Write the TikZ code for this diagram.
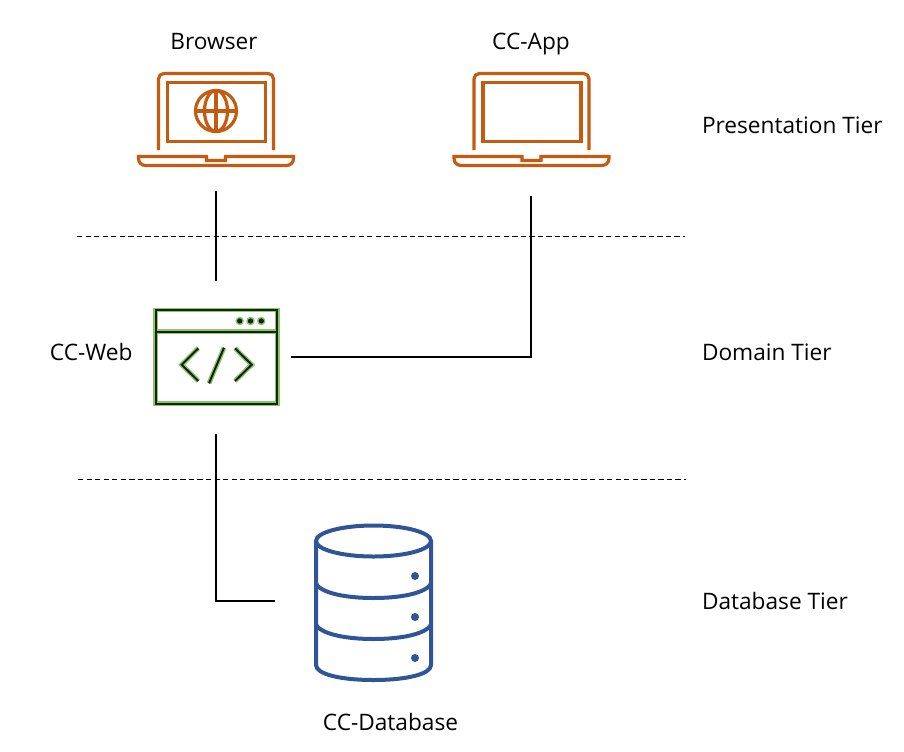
\documentclass[tikz,border=0pt]{standalone}
\usepackage{fontspec}
\setmainfont{Open Sans}
\definecolor{laptopc}{HTML}{C55A11}
\definecolor{dbc}{HTML}{2F5597}
\definecolor{webdark}{HTML}{14240A}
\definecolor{webhalo}{HTML}{8CC66E}
\tikzset{
  x=0.75pt,y=-0.75pt,
  laptopline/.style={draw=laptopc,line width=2.4pt},
  dbline/.style={draw=dbc,line width=3pt},
  webhaloline/.style={draw=webhalo,line width=3.6pt},
  webline/.style={draw=webdark,line width=1.5pt},
  anchorbox/.style={inner sep=0pt,outer sep=0pt,minimum width=#1},
  conn/.style={draw=black,line width=1.2pt},
  tierline/.style={draw=black,line width=0.6pt,dash pattern=on 4pt off 2.4pt},
  lbl/.style={font=\fontsize{17}{20}\selectfont,text=black,inner sep=0pt,outer sep=0pt,text height=12pt,text depth=3pt},
}
\newcommand{\laptopicon}[1]{%
  \begin{scope}[shift={(#1,0)}]
    \draw[laptopline,rounded corners=4pt] (158.5,150) -- (158.5,73.5) -- (273.5,73.5) -- (273.5,150);
    \draw[laptopline] (167.5,82.5) rectangle (265.5,141.5);
    \draw[laptopline,line join=miter]
      (138.5,156.5) -- (138.5,158.5) .. controls (138.5,163) and (142,165.5) .. (146,165.5)
      -- (286,165.5) .. controls (290,165.5) and (293.5,163) .. (293.5,158.5) -- (293.5,156.5)
      -- (225.5,156.5) -- (225.5,160.5) -- (206.5,160.5) -- (206.5,156.5) -- cycle;
  \end{scope}}
\newcommand{\webpath}[1]{%
  \draw[#1] (155.7,310) rectangle (277.3,403.7);
  \draw[#1] (155.7,331.7) -- (277.3,331.7);
  \draw[#1] (198.3,348.3) -- (181.7,364.7) -- (198.3,381);
  \draw[#1] (235,348.3) -- (251.7,364.7) -- (235,381);
  \draw[#1] (224,347.7) -- (209,383.3);}
\begin{document}
\begin{tikzpicture}
\useasboundingbox (0,0) rectangle (904,751);
% tier separators
\coordinate (t1a) at (77,236.5); \coordinate (t1b) at (685,236.5);
\coordinate (t2a) at (78,479.5); \coordinate (t2b) at (686,479.5);
\draw[tierline] (t1a) -- (t1b);
\draw[tierline] (t2a) -- (t2b);
% laptops
\laptopicon{0}
\laptopicon{315.5}
\draw[laptopline] (216,111) ellipse [x radius=20.5,y radius=20.5];
\draw[laptopline] (216,111) ellipse [x radius=11.5,y radius=20.5];
\draw[laptopline] (216,90.5) -- (216,131.5);
\draw[laptopline] (195.5,111) -- (236.5,111);
% web window
\webpath{webhaloline}
\webpath{webline}
\foreach \dx in {239.7,250.5,261.3}{
  \fill[webhalo] (\dx,321) circle (3.2pt);
  \fill[webdark] (\dx,321) circle (2pt);
}
% database
\draw[dbline] (373.5,541) ellipse [x radius=57.5,y radius=15.5];
\draw[dbline] (316,541) -- (316,665) .. controls (316,674) and (340,680) .. (373.5,680) .. controls (407,680) and (431,674) .. (431,665) -- (431,541);
\draw[dbline] (316,584) .. controls (322,593) and (345,598) .. (373.5,598) .. controls (402,598) and (425,593) .. (431,584);
\draw[dbline] (316,625) .. controls (322,634) and (345,639) .. (373.5,639) .. controls (402,639) and (425,634) .. (431,625);
\foreach \dy in {576,617,658}{\fill[dbc] (415,\dy) circle (3pt);}
% invisible anchor nodes around the icons (reach to where the connectors stop)
\node[anchorbox=158*0.75pt,minimum height=125*0.75pt] (browser) at (216,128.5) {};
\node[anchorbox=158*0.75pt,minimum height=130*0.75pt] (app) at (531,131) {};
\node[anchorbox=150*0.75pt,minimum height=153*0.75pt] (web) at (216,357) {};
\node[anchorbox=197*0.75pt,minimum height=160*0.75pt] (db) at (373.5,601) {};
% connectors
\draw[conn] (browser.south) -- (web.north);
\draw[conn] (web.east) -| (app.south);
\draw[conn] (web.south) |- (db.west);
% labels
\node[lbl] (lbrowser) at (214,43) {Browser};
\node[lbl] (lapp) at (531,43) {CC-App};
\node[lbl,anchor=west] (lweb) at (50,354) {CC-Web};
\node[lbl] (ldb) at (390.5,724) {CC-Database};
\node[lbl,anchor=west] (tp) at (702,127) {Presentation Tier};
\node[lbl,anchor=west] (td) at (702,354) {Domain Tier};
\node[lbl,anchor=west] (tb) at (702,603) {Database Tier};
\end{tikzpicture}
\end{document}
